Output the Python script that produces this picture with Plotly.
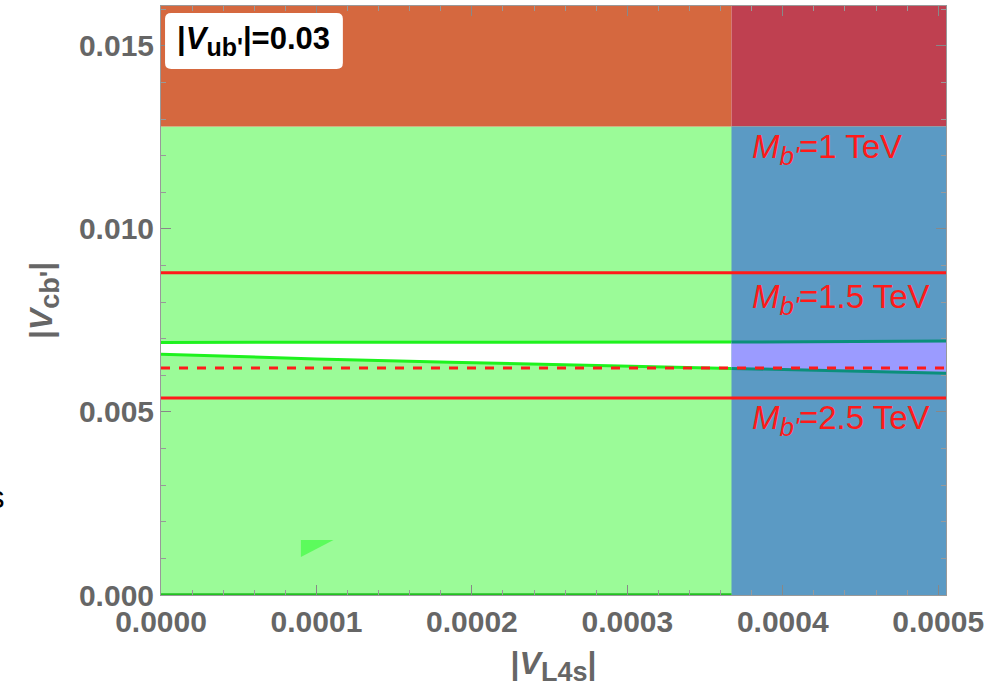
import plotly.graph_objects as go

# Axis extents
x_max = 0.000505
y_max = 0.01609

# Region boundaries
x_split = 0.000367          # left edge of the blue (excluded) strip
y_top_region = 0.0128       # lower edge of the top (excluded) band

# Allowed band: upper edge is flat, lower edge falls slowly with |V_L4s|
band_upper_x = [0.0, 0.000367, 0.000505]
band_upper_y = [0.00690, 0.00691, 0.00694]
band_lower_x = [0.0, 0.0001, 0.000186, 0.00028, 0.000367, 0.00044, 0.000505]
band_lower_y = [0.00658, 0.00645, 0.00636, 0.00627, 0.00619, 0.00612, 0.00606]

# Mass contours
mass_levels = [0.0088, 0.00538]
mass_dashed = 0.0062
mass_labels = ["1", "1.5", "2.5"]
mass_label_y = [0.01216, 0.00806, 0.00478]

# Small island near the bottom
island_x = [0.00009, 0.000111, 0.00009]
island_y = [0.0015, 0.0015, 0.00104]

# Inset box (data coordinates)
box_x = [0.0000026, 0.000117]
box_y = [0.01437, 0.0159]

C_GREEN = "#9bfb98"
C_ORANGE = "#d5683f"
C_CRIMSON = "#bf4050"
C_BLUE = "#5b9ac4"
C_LAVENDER = "#9b9bff"
C_LINE_G = "#1ef21e"
C_LINE_T = "#0b8f7b"
C_RED = "#ff1a1a"
GRAY = "#666666"

fig = go.Figure()


def rect(x0, x1, y0, y1, color):
    fig.add_trace(go.Scatter(
        x=[x0, x1, x1, x0, x0], y=[y0, y0, y1, y1, y0],
        mode="lines", fill="toself", fillcolor=color,
        line=dict(width=0), hoverinfo="skip", showlegend=False))


def interp(xs, ys, x):
    for i in range(len(xs) - 1):
        if xs[i] <= x <= xs[i + 1]:
            t = (x - xs[i]) / (xs[i + 1] - xs[i])
            return ys[i] + t * (ys[i + 1] - ys[i])
    return ys[-1]


def band_poly(xa, xb):
    up_x = [x for x in band_upper_x if xa < x < xb]
    lo_x = [x for x in band_lower_x if xa < x < xb]
    ux = [xa] + up_x + [xb]
    uy = [interp(band_upper_x, band_upper_y, x) for x in ux]
    lx = [xa] + lo_x + [xb]
    ly = [interp(band_lower_x, band_lower_y, x) for x in lx]
    return ux + lx[::-1] + [ux[0]], uy + ly[::-1] + [uy[0]], (ux, uy), (lx, ly)


# Background regions
rect(0, x_max, 0, y_top_region, C_GREEN)
rect(0, x_split, y_top_region, y_max, C_ORANGE)
rect(x_split, x_max, y_top_region, y_max, C_CRIMSON)
rect(x_split, x_max, 0, y_top_region, C_BLUE)

# Allowed band (white over green, lavender over blue)
for xa, xb, fillc, linec in [(0, x_split, "white", C_LINE_G),
                             (x_split, x_max, C_LAVENDER, C_LINE_T)]:
    px, py, (ux, uy), (lx, ly) = band_poly(xa, xb)
    fig.add_trace(go.Scatter(x=px, y=py, mode="lines", fill="toself",
                             fillcolor=fillc, line=dict(width=0),
                             hoverinfo="skip", showlegend=False))
    for bx, by in [(ux, uy), (lx, ly)]:
        fig.add_trace(go.Scatter(x=bx, y=by, mode="lines",
                                 line=dict(color=linec, width=3),
                                 hoverinfo="skip", showlegend=False))

# Lower boundary along the axis
fig.add_trace(go.Scatter(x=[0, x_split], y=[0.00002, 0.00002], mode="lines",
                         line=dict(color="#22c022", width=2),
                         hoverinfo="skip", showlegend=False))

# Island
fig.add_trace(go.Scatter(x=island_x + [island_x[0]], y=island_y + [island_y[0]],
                         mode="lines", fill="toself", fillcolor="#5cfb5c",
                         line=dict(width=0), hoverinfo="skip", showlegend=False))

# Mass contours
for yv in mass_levels:
    fig.add_trace(go.Scatter(x=[0, x_max], y=[yv, yv], mode="lines",
                             line=dict(color=C_RED, width=3),
                             hoverinfo="skip", showlegend=False))
fig.add_trace(go.Scatter(x=[0, x_max], y=[mass_dashed, mass_dashed], mode="lines",
                         line=dict(color=C_RED, width=3, dash="dash"),
                         hoverinfo="skip", showlegend=False))

for lab, ly in zip(mass_labels, mass_label_y):
    fig.add_annotation(x=0.000379, y=ly, xref="x", yref="y", xanchor="left",
                       yanchor="middle", showarrow=False,
                       text=f"<i>M</i><sub><i><span style='font-size:26px'>b'</span></i></sub>={lab} TeV",
                       font=dict(family="Liberation Sans", size=33, color=C_RED))

# Inset label with a rounded white box
rx, ry = 0.0000040, 0.00016
bx0, bx1 = box_x
by0, by1 = box_y
box_path = (f"M {bx0 + rx},{by0} L {bx1 - rx},{by0} Q {bx1},{by0} {bx1},{by0 + ry} "
            f"L {bx1},{by1 - ry} Q {bx1},{by1} {bx1 - rx},{by1} "
            f"L {bx0 + rx},{by1} Q {bx0},{by1} {bx0},{by1 - ry} "
            f"L {bx0},{by0 + ry} Q {bx0},{by0} {bx0 + rx},{by0} Z")
fig.add_shape(type="path", path=box_path, xref="x", yref="y",
              fillcolor="white", line=dict(width=0), layer="above")
fig.add_annotation(x=(bx0 + bx1) / 2, y=(by0 + by1) / 2, xref="x", yref="y",
                   xanchor="center", yanchor="middle", showarrow=False,
                   text="|<i>V</i><sub><span style='font-size:25px'>ub'</span></sub>|=0.03",
                   font=dict(family="Liberation Sans", size=31, color="black",
                             weight="bold"))

# Fragment at the left edge
fig.add_annotation(x=-0.209, y=0.166, xref="paper", yref="paper", xanchor="center",
                   yanchor="middle", showarrow=False, text="s",
                   font=dict(family="Liberation Sans", size=31, color="black"))

tick_font_x = dict(family="Liberation Sans", size=30, color=GRAY, weight="bold")
tick_font_y = dict(family="Liberation Sans", size=30, color=GRAY, weight="bold")
title_font = dict(family="Liberation Sans", size=32, color=GRAY, weight="bold")

fig.update_xaxes(range=[0, x_max], dtick=0.0001, tickformat=".4f",
                 tickfont=tick_font_x, ticks="inside", ticklen=10, tickcolor="#888",
                 minor=dict(dtick=0.00002, ticks="inside", ticklen=5, tickcolor="#999"),
                 showline=True, linecolor="#999", linewidth=1, mirror="ticks",
                 showgrid=False, zeroline=False,
                 title=dict(text="|<i>V</i><sub><span style='font-size:27px'>L4s</span></sub>|",
                            font=title_font, standoff=14))
fig.update_yaxes(range=[0, y_max], dtick=0.005, tickformat=".3f",
                 tickfont=tick_font_y, ticks="inside", ticklen=10, tickcolor="#888",
                 minor=dict(dtick=0.001, ticks="inside", ticklen=5, tickcolor="#999"),
                 showline=True, linecolor="#999", linewidth=1, mirror="ticks",
                 showgrid=False, zeroline=False,
                 title=dict(text="|<i>V</i><sub><span style='font-size:27px'>cb'</span></sub>|",
                            font=title_font, standoff=16))

fig.update_layout(width=1005, height=695,
                  margin=dict(l=161, r=59, t=6, b=100),
                  paper_bgcolor="white", plot_bgcolor="white")

fig.write_html("out.html")
